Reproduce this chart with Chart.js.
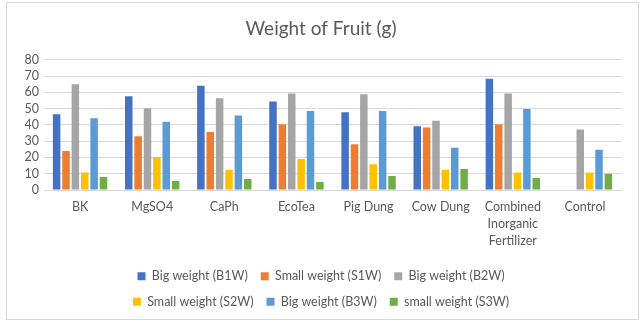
<!DOCTYPE html>
<html>
<head>
<meta charset="utf-8">
<script src="https://cdn.jsdelivr.net/npm/chart.js@4.4.1/dist/chart.umd.min.js"></script>
<style>
  html, body { margin: 0; padding: 0; background: #fff; }
  #frame { position: absolute; left: 6px; top: 2px; width: 631px; height: 316px; border: 1px solid #d9d9d9; }
  #wrap { position: absolute; left: 0; top: 0; width: 642px; height: 322px; }
</style>
</head>
<body>
<div id="frame"></div>
<div id="wrap"><canvas id="fruit_chart" width="642" height="322"></canvas></div>
<script>
var categories = ["BK", "MgSO4", "CaPh", "EcoTea", "Pig Dung", "Cow Dung",
    ["Combined", "Inorganic", "Fertilizer"], "Control"];
var yTicks = [0, 10, 20, 30, 40, 50, 60, 70, 80];

var bigB1W   = [46.6, 57.6, 64.0, 54.4, 47.8, 39.2, 68.3, null];
var smallS1W = [24.0, 33.0, 35.7, 40.4, 28.1, 38.4, 40.4, null];
var bigB2W   = [65.0, 50.3, 56.4, 59.3, 58.9, 42.5, 59.3, 37.1];
var smallS2W = [10.7, 20.3, 12.5, 19.0, 15.8, 12.5, 10.7, 10.7];
var bigB3W   = [44.1, 42.0, 45.7, 48.6, 48.6, 26.0, 49.8, 24.8];
var smallS3W = [8.0, 5.5, 6.8, 4.9, 8.6, 12.9, 7.4, 10.0];

var textColor = '#595959';
var gridColor = '#d9d9d9';

// keep the legend at three items per row, like the original
var legendRows = {
    id: 'legendRows',
    beforeLayout: function (chart) {
        var legend = chart.legend;
        if (legend && !legend._rowsPatched) {
            var orig = legend.update;
            legend.update = function (maxWidth, maxHeight, margins) {
                orig.call(this, maxWidth, maxHeight, margins);
                this.maxWidth = Math.min(maxWidth, 440);
                this.fit();
                this.maxWidth = maxWidth;
                this.width = maxWidth;
            };
            legend._rowsPatched = true;
        }
    }
};

function series(label, data, color) {
    return {
        label: label,
        data: data,
        backgroundColor: color,
        categoryPercentage: 0.78,
        barPercentage: 0.8
    };
}

new Chart(document.getElementById("fruit_chart").getContext("2d"), {
    type: 'bar',
    data: {
        labels: categories,
        datasets: [
            series("Big weight (B1W)", bigB1W, '#4472C4'),
            series("Small weight (S1W)", smallS1W, '#ED7D31'),
            series("Big weight (B2W)", bigB2W, '#A5A5A5'),
            series("Small weight (S2W)", smallS2W, '#FFC000'),
            series("Big weight (B3W)", bigB3W, '#5B9BD5'),
            series("small weight (S3W)", smallS3W, '#70AD47')
        ]
    },
    plugins: [legendRows],
    options: {
        responsive: false,
        animation: false,
        layout: { padding: { left: 21, right: 21, top: 5, bottom: 4 } },
        plugins: {
            title: {
                display: true,
                text: 'Weight of Fruit (g)',
                color: textColor,
                font: { family: 'Lato', size: 19, weight: 'normal' },
                padding: { top: 12, bottom: 20 }
            },
            legend: {
                position: 'bottom',
                labels: {
                    color: textColor,
                    font: { family: 'Lato', size: 12.5 },
                    boxWidth: 8,
                    boxHeight: 8,
                    padding: 13
                }
            },
            tooltip: { enabled: false }
        },
        scales: {
            x: {
                grid: { display: false, drawTicks: false },
                border: { color: gridColor },
                ticks: {
                    color: textColor,
                    font: { family: 'Lato', size: 12.5, lineHeight: 1.36 },
                    padding: 8,
                    maxRotation: 0,
                    autoSkip: false
                }
            },
            y: {
                min: 0,
                max: 80,
                afterBuildTicks: function (scale) {
                    scale.ticks = yTicks.map(function (v) { return { value: v }; });
                },
                afterFit: function (scale) { scale.width = 23; },
                grid: { color: gridColor, drawTicks: false },
                border: { display: false },
                ticks: {
                    color: textColor,
                    font: { family: 'Lato', size: 12.5 },
                    padding: 5,
                    autoSkip: false
                }
            }
        }
    }
});
</script>
</body>
</html>
